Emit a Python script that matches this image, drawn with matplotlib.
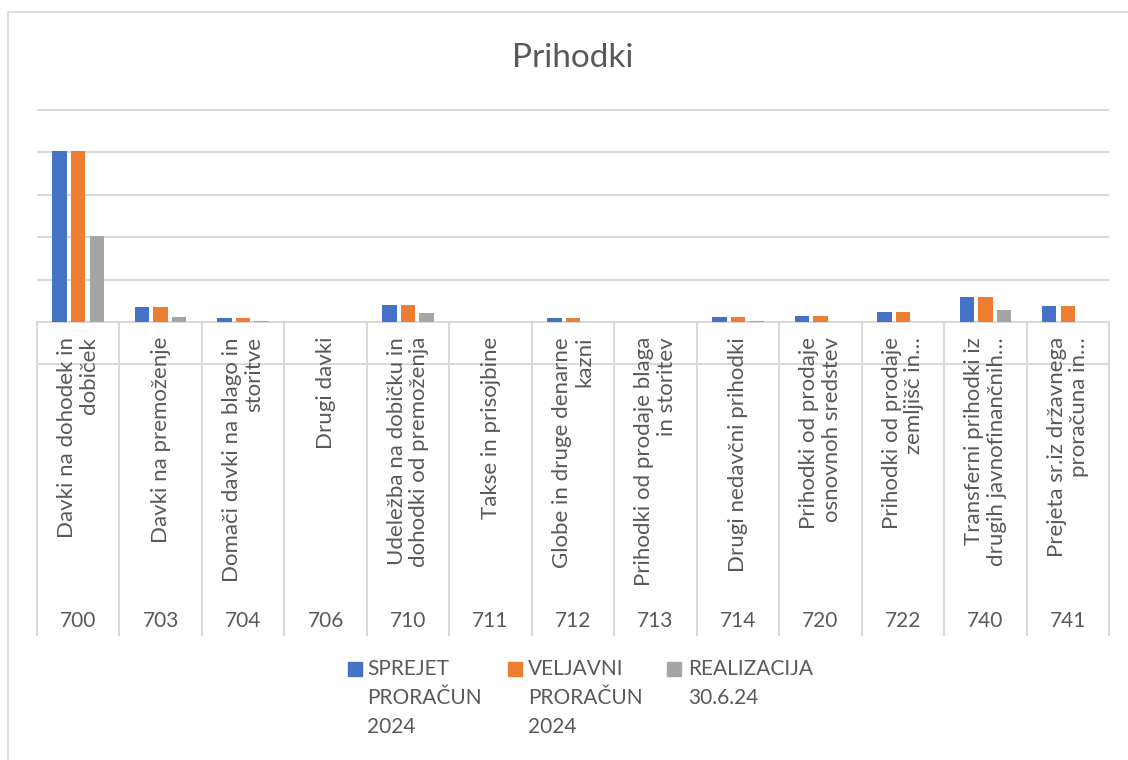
import numpy as np
import matplotlib
matplotlib.use("Agg")
import matplotlib.pyplot as plt
from matplotlib.patches import Rectangle

plt.rcParams['font.family'] = ['Lato', 'DejaVu Sans']

# data (axis has no scale labels, units arbitrary)
codes = ['700', '703', '704', '706', '710', '711', '712', '713', '714',
         '720', '722', '740', '741']
names = ['Davki na dohodek in\ndobiček',
         'Davki na premoženje',
         'Domači davki na blago in\nstoritve',
         'Drugi davki',
         'Udeležba na dobičku in\ndohodki od premoženja',
         'Takse in prisojbine',
         'Globe in druge denarne\nkazni',
         'Prihodki od prodaje blaga\nin storitev',
         'Drugi nedavčni prihodki',
         'Prihodki od prodaje\nosnovnoh sredstev',
         'Prihodki od prodaje\nzemljišč in…',
         'Transferni prihodki iz\ndrugih javnofinančnih…',
         'Prejeta sr.iz državnega\nproračuna in…']
sprejet = [4.03, 0.36, 0.10, 0.0, 0.40, 0.005, 0.087, 0.0, 0.11, 0.14, 0.23, 0.58, 0.38]
veljavni = [4.03, 0.36, 0.10, 0.0, 0.40, 0.005, 0.087, 0.0, 0.11, 0.14, 0.23, 0.58, 0.38]
realizacija = [2.02, 0.12, 0.015, 0.0, 0.22, 0.005, 0.01, 0.0, 0.03, 0.0, 0.0, 0.28, 0.01]
series = ['SPREJET\nPRORAČUN\n2024', 'VELJAVNI\nPRORAČUN\n2024', 'REALIZACIJA\n30.6.24']
colors = ['#4472C4', '#ED7D31', '#A5A5A5']

txt = '#595959'
grid = '#D9D9D9'

W, H = 1128, 760
fig = plt.figure(figsize=(W / 100, H / 100), dpi=100)

# chart border
fig.patches.append(Rectangle((8 / W, -0.05), 1.2, 1 - 11.5 / H + 0.05,
                             transform=fig.transFigure, fill=False,
                             edgecolor=grid, linewidth=1.3))

ppu = 42.4  # pixels per value unit
ylo, yhi = -1.02, 5.02
bottom_px = 322 + (0 - ylo) * ppu
ax = fig.add_axes([37 / W, 1 - bottom_px / H, (1109 - 37) / W, (yhi - ylo) * ppu / H])
ax.set_xlim(-0.5, len(codes) - 0.5)
ax.set_ylim(ylo, yhi)
for s in ax.spines.values():
    s.set_visible(False)
ax.set_xticks([])
ax.set_yticks(np.arange(-1, 6, 1))
ax.tick_params(axis='y', length=0, labelleft=False)
ax.yaxis.grid(True, color=grid, linewidth=1.5)
ax.set_axisbelow(True)

x = np.arange(len(codes))
w, step = 0.175, 0.225
for i, (vals, c) in enumerate(zip([sprejet, veljavni, realizacija], colors)):
    ax.bar(x + (i - 1) * step, vals, width=w, color=c, zorder=3)

# category table below the axis
y_bot = (322 - 635) / ppu
for b in np.arange(-0.5, len(codes), 1.0):
    ax.plot([b, b], [0, y_bot], color=grid, linewidth=1.5, clip_on=False, zorder=2)
for xi, name, code in zip(x, names, codes):
    ax.text(xi, (322 - 337) / ppu, name, rotation=90, ha='center', va='top',
            multialignment='right', fontsize=16, color=txt, linespacing=1.15,
            clip_on=False)
    ax.text(xi, (322 - 621) / ppu, code, ha='center', va='center',
            fontsize=15, color=txt, clip_on=False)

fig.text(572.5 / W, 1 - 67 / H, 'Prihodki', ha='center', va='baseline',
         fontsize=24, color=txt)

# legend
for (sx, tx), lab, c in zip([(348, 367), (508, 528), (667, 688)], series, colors):
    fig.patches.append(Rectangle((sx / W, 1 - 676 / H), 14 / W, 14 / H,
                                 transform=fig.transFigure, color=c))
    fig.text(tx / W, 1 - 659 / H, lab, ha='left', va='top', fontsize=15,
             color=txt, linespacing=1.55)

fig.savefig('out.png', dpi=100)
